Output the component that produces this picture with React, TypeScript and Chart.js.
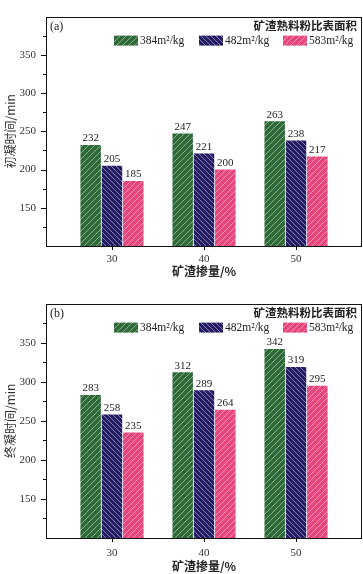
import React, { useEffect, useRef } from 'react';
import { Chart, registerables } from 'chart.js';
Chart.register(...registerables);

const categories = [30, 40, 50];
const seriesLabels = ['384m²/kg', '482m²/kg', '583m²/kg'];
const initial384 = [232, 247, 263];
const initial482 = [205, 221, 238];
const initial583 = [185, 200, 217];
const final384 = [283, 312, 342];
const final482 = [258, 289, 319];
const final583 = [235, 264, 295];
const yTicks = [150, 200, 250, 300, 350];
const yMinorTicks = [125, 175, 225, 275, 325, 375];
const legendTitle = '矿渣熟料粉比表面积';
const xTitle = '矿渣掺量/%';
const yTitleA = '初凝时间/min';
const yTitleB = '终凝时间/min';

const COLORS = ['#2e6a38', '#231b63', '#e8457c'];
const DIRS = [1, -1, 1];
const SERIF = '"Liberation Serif", "Times New Roman", serif';
const CJK = '"Noto Sans CJK SC", sans-serif';

function makePattern(base: string, dir: number, s: number) {
  const c = document.createElement('canvas');
  c.width = s; c.height = s;
  const g = c.getContext('2d')!;
  g.fillStyle = base; g.fillRect(0, 0, s, s);
  g.strokeStyle = 'rgba(255,255,255,0.5)';
  g.lineWidth = 0.9;
  g.beginPath();
  if (dir === 1) {
    g.moveTo(0, s); g.lineTo(s, 0);
    g.moveTo(-1, 1); g.lineTo(1, -1);
    g.moveTo(s - 1, s + 1); g.lineTo(s + 1, s - 1);
  } else {
    g.moveTo(0, 0); g.lineTo(s, s);
    g.moveTo(-1, s - 1); g.lineTo(1, s + 1);
    g.moveTo(s - 1, -1); g.lineTo(s + 1, 1);
  }
  g.stroke();
  return g.createPattern(c, 'repeat')!;
}

function panelPlugin(label: string) {
  return {
    id: 'panel' + label,
    afterDatasetsDraw(chart: any) {
      const ctx = chart.ctx;
      const { left, right, top, bottom } = chart.chartArea;
      const ys = chart.scales.y;
      const xs = chart.scales.x;
      ctx.save();
      // data labels
      ctx.fillStyle = '#222';
      ctx.font = '11px ' + SERIF;
      ctx.textAlign = 'center';
      ctx.textBaseline = 'bottom';
      chart.data.datasets.forEach((ds: any, di: number) => {
        const meta = chart.getDatasetMeta(di);
        meta.data.forEach((bar: any, i: number) => {
          ctx.fillText(String(ds.data[i].y), bar.x, bar.y - 1);
        });
      });
      // frame
      ctx.strokeStyle = '#111';
      ctx.lineWidth = 1;
      ctx.strokeRect(Math.round(left) + 0.5, Math.round(top) + 0.5, Math.round(right - left) - 1, Math.round(bottom - top));
      // ticks
      ctx.beginPath();
      yTicks.forEach((v) => {
        const y = Math.round(ys.getPixelForValue(v)) + 0.5;
        ctx.moveTo(left - 5, y); ctx.lineTo(left, y);
      });
      yMinorTicks.forEach((v) => {
        const y = Math.round(ys.getPixelForValue(v)) + 0.5;
        ctx.moveTo(left - 3, y); ctx.lineTo(left, y);
      });
      categories.forEach((v) => {
        const x = Math.round(xs.getPixelForValue(v)) + 0.5;
        ctx.moveTo(x, bottom); ctx.lineTo(x, bottom + 4);
      });
      ctx.stroke();
      // panel label
      ctx.fillStyle = '#222';
      ctx.font = '12px ' + SERIF;
      ctx.textAlign = 'left';
      ctx.textBaseline = 'middle';
      ctx.fillText(label, left + 4, top + 10);
      // legend title
      ctx.font = 'bold 11.5px ' + CJK;
      ctx.textAlign = 'right';
      ctx.fillText(legendTitle, right - 5, top + 9);
      // legend items
      const starts = [right - 248, right - 163, right - 79];
      chart.data.datasets.forEach((ds: any, di: number) => {
        const x = starts[di];
        ctx.fillStyle = ds.backgroundColor;
        ctx.fillRect(x, top + 19, 24, 10);
        ctx.fillStyle = '#222';
        ctx.font = '11.5px ' + SERIF;
        ctx.textAlign = 'left';
        ctx.textBaseline = 'middle';
        ctx.fillText(seriesLabels[di], x + 26, top + 24.5);
      });
      ctx.restore();
    },
  };
}

function Panel(props: { label: string; values: number[][]; yTitle: string; padTop: number; xAxisH: number; tickPad: number; titlePad: number }) {
  const ref = useRef<HTMLCanvasElement>(null);
  useEffect(() => {
    const canvas = ref.current!;
    const patterns = COLORS.map((c, i) => makePattern(c, DIRS[i], i === 1 ? 5 : 6));
    const chart = new Chart(canvas, {
      type: 'bar',
      data: {
        datasets: props.values.map((vals, i) => ({
          label: seriesLabels[i],
          data: categories.map((c, j) => ({ x: c, y: vals[j] })),
          backgroundColor: patterns[i],
          borderWidth: 0,
          categoryPercentage: 0.695,
          barPercentage: 0.96,
        })),
      },
      options: {
        responsive: false,
        animation: false,
        layout: { padding: { top: props.padTop, right: 1, left: 0, bottom: 0 } },
        plugins: { legend: { display: false }, tooltip: { enabled: false } },
        scales: {
          x: {
            type: 'linear',
            offset: false,
            min: 22.83,
            max: 57.17,
            afterBuildTicks: (axis: any) => { axis.ticks = categories.map((v) => ({ value: v })); },
            afterFit: (axis: any) => { axis.height = props.xAxisH; },
            grid: { display: false, drawTicks: false },
            border: { display: false },
            ticks: { padding: props.tickPad, color: '#333', font: { family: SERIF, size: 11 }, callback: (v: any) => String(v) },
            title: { display: true, text: xTitle, color: '#222', font: { family: CJK, size: 12, weight: 'bold' }, padding: { top: 0, bottom: props.titlePad } },
          },
          y: {
            min: 100,
            max: 400,
            afterBuildTicks: (axis: any) => { axis.ticks = yTicks.map((v) => ({ value: v })); },
            afterFit: (axis: any) => { axis.width = 46; },
            grid: { display: false, drawTicks: false },
            border: { display: false },
            ticks: { padding: 10, color: '#333', font: { family: SERIF, size: 11 } },
            title: { display: true, text: props.yTitle, color: '#333', font: { family: CJK, size: 12 }, padding: { top: 3, bottom: 0 } },
          },
        },
      } as any,
      plugins: [panelPlugin(props.label)],
    });
    return () => chart.destroy();
  }, []);
  return <canvas ref={ref} width={363} height={287} style={{ display: 'block', width: 363, height: 287 }} />;
}

export default function App() {
  return (
    <div style={{ position: 'absolute', left: 0, top: 0, width: 363, height: 574, background: '#fff' }}>
      <Panel label="(a)" values={[initial384, initial482, initial583]} yTitle={yTitleA} padTop={4} xAxisH={41} tickPad={7} titlePad={8} />
      <Panel label="(b)" values={[final384, final482, final583]} yTitle={yTitleB} padTop={7} xAxisH={36} tickPad={9} titlePad={0} />
    </div>
  );
}
